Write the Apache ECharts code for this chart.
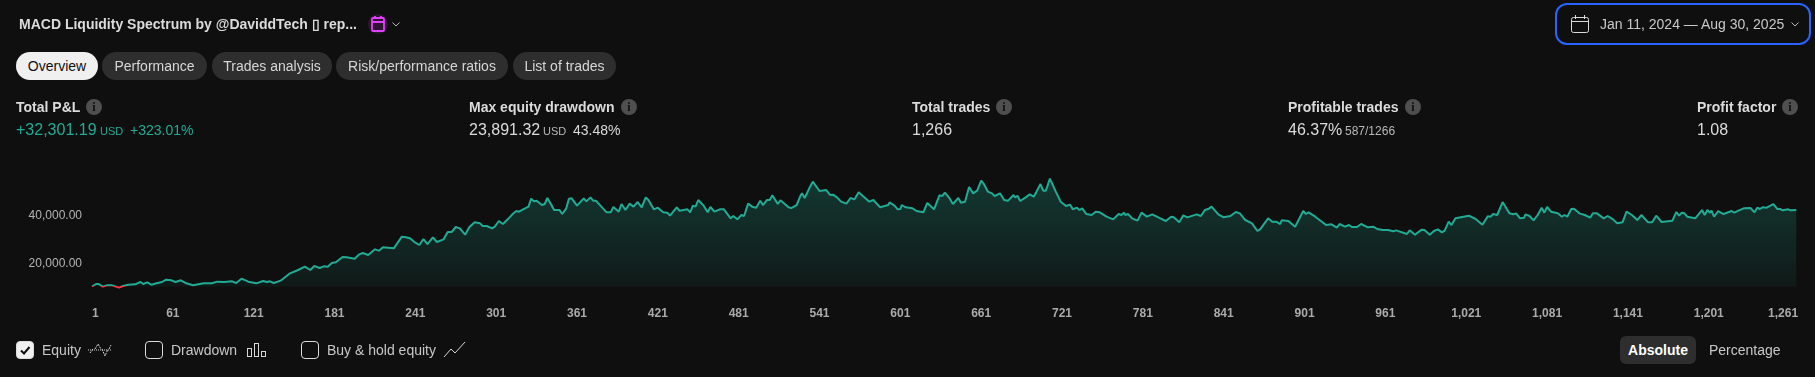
<!DOCTYPE html>
<html>
<head>
<meta charset="utf-8">
<title>MACD Liquidity Spectrum</title>
<script src="https://cdn.jsdelivr.net/npm/echarts@6/dist/echarts.min.js"></script>
<style>
    html, body { margin: 0; padding: 0; background: #0f0f0f; width: 1815px; height: 377px; overflow: hidden; font-family: "Liberation Sans", Arial, sans-serif; }
    #chart { position: absolute; left: 0; top: 0; width: 1815px; height: 377px; }
    .t { position: absolute; transform: translateY(-50%); white-space: nowrap; color: #dbdbdb; font-size: 14px; }
    .b { font-weight: bold; }
    .big { font-size: 16px; }
    .small { font-size: 12px; color: #b8b8b8; }
    .green { color: #22ab94; }
    .pill { position: absolute; top: 52px; height: 28px; line-height: 28px; border-radius: 14px; background: #2e2e2e; color: #d6d6d6; font-size: 14px; text-align: center; }
    .info { position: absolute; width: 16px; height: 16px; border-radius: 8px; background: #4f4f4f; color: #0f0f0f; font: bold 12px/16px "Liberation Serif", serif; text-align: center; transform: translateY(-50%); }
    .box { position: absolute; top: 341px; width: 16px; height: 16px; border: 1px solid #dbdbdb; border-radius: 4px; }
    svg { position: absolute; fill: none; }
</style>
</head>
<body>
<div id="chart"></div>

<div class="t b" style="left:19px;top:24px;">MACD Liquidity Spectrum by @DaviddTech ▯ rep...</div>
<div style="position:absolute;left:368px;top:14px;width:20px;height:20px;border-radius:10px;background:rgba(224,64,251,0.14);"></div>
<svg style="left:368px;top:14px;" width="20" height="20" stroke="#e040fb" stroke-width="1.8"><rect x="4" y="4" width="12" height="13" rx="1"/><path d="M4 8h12M7 2v3M13 2v3"/></svg>
<svg style="left:391px;top:19px;" width="10" height="10" stroke="#b8b8b8"><path d="M1.5 3.5L5 7L8.5 3.5"/></svg>

<div style="position:absolute;left:1555px;top:3px;width:252px;height:38px;border:2px solid #2962ff;border-radius:12px;"></div>
<svg style="left:1570px;top:14px;" width="20" height="20" stroke="#dbdbdb"><rect x="1.5" y="3.5" width="17" height="15" rx="2"/><path d="M1.5 7.5h17M5.5 1v4M14.5 1v4"/></svg>
<div class="t" style="left:1600px;top:24px;color:#c8c8c8;">Jan 11, 2024 — Aug 30, 2025</div>
<svg style="left:1790px;top:19px;" width="10" height="10" stroke="#b8b8b8"><path d="M1.5 3.5L5 7L8.5 3.5"/></svg>

<div class="pill" style="left:16px;width:82px;background:#f0f0f0;color:#0f0f0f;">Overview</div>
<div class="pill" style="left:102px;width:105px;">Performance</div>
<div class="pill" style="left:212px;width:120px;">Trades analysis</div>
<div class="pill" style="left:336px;width:172px;">Risk/performance ratios</div>
<div class="pill" style="left:513px;width:103px;">List of trades</div>

<div class="t b" style="left:16px;top:107px;">Total P&amp;L</div>
<div class="info" style="left:86px;top:107px;">i</div>
<div class="t big green" style="left:16px;top:130px;">+32,301.19</div>
<div class="t small green" style="left:100px;top:131px;font-size:11px;">USD</div>
<div class="t green" style="left:130px;top:130px;">+323.01%</div>

<div class="t b" style="left:469px;top:107px;">Max equity drawdown</div>
<div class="info" style="left:621px;top:107px;">i</div>
<div class="t big" style="left:469px;top:130px;">23,891.32</div>
<div class="t small" style="left:543px;top:131px;font-size:11px;">USD</div>
<div class="t" style="left:573px;top:130px;">43.48%</div>

<div class="t b" style="left:912px;top:107px;">Total trades</div>
<div class="info" style="left:996px;top:107px;">i</div>
<div class="t big" style="left:912px;top:130px;">1,266</div>

<div class="t b" style="left:1288px;top:107px;">Profitable trades</div>
<div class="info" style="left:1405px;top:107px;">i</div>
<div class="t big" style="left:1288px;top:130px;">46.37%</div>
<div class="t small" style="left:1345px;top:131px;">587/1266</div>

<div class="t b" style="left:1697px;top:107px;">Profit factor</div>
<div class="info" style="left:1782px;top:107px;">i</div>
<div class="t big" style="left:1697px;top:130px;">1.08</div>

<div class="box" style="left:16px;background:#f0f0f0;"></div>
<svg style="left:16px;top:341px;" width="18" height="18" stroke="#0f0f0f" stroke-width="2"><path d="M5 9.5L8 12.5L13.5 6"/></svg>
<div class="t" style="left:42px;top:350px;color:#c8c8c8;">Equity</div>
<svg style="left:87px;top:340px;" width="26" height="20" stroke="#d6d6d6"><path d="M1 10h24" stroke-dasharray="1 1"/><path d="M3 13L6 9M8 9L11 4L14 9M15 9L18 16L21 9M22 9L24 5" stroke-dasharray="2 1"/></svg>
<div class="box" style="left:145px;"></div>
<div class="t" style="left:171px;top:350px;color:#c8c8c8;">Drawdown</div>
<svg style="left:245px;top:340px;" width="22" height="20" stroke="#d6d6d6"><rect x="2.5" y="8.5" width="4" height="8"/><rect x="9.5" y="3.5" width="4" height="13"/><rect x="16.5" y="11.5" width="4" height="5"/></svg>
<div class="box" style="left:301px;"></div>
<div class="t" style="left:327px;top:350px;color:#c8c8c8;">Buy &amp; hold equity</div>
<svg style="left:443px;top:340px;" width="23" height="20" stroke="#d6d6d6"><path d="M1 17L8 9L12 13L22 2"/></svg>

<div style="position:absolute;left:1620px;top:336px;width:76px;height:28px;line-height:28px;border-radius:6px;background:#2e2e2e;color:#fff;font-size:14px;font-weight:bold;text-align:center;">Absolute</div>
<div class="t" style="left:1709px;top:350px;color:#c8c8c8;">Percentage</div>

<script>
// trade offsets (0 = trade 1), only the turning points
var tradeOffset = [
    0, 3, 5, 8, 11, 15, 20, 23, 27, 32, 36, 38, 41, 44, 48, 52, 55, 59, 62, 66,
    70, 75, 79, 83, 89, 93, 98, 104, 107, 111, 116, 122, 127, 130, 132, 135, 140, 147, 153, 158,
    162, 165, 169, 172, 175, 178, 181, 186, 189, 195, 198, 201, 205, 210, 213, 216, 224, 230, 233, 236,
    240, 243, 246, 249, 253, 256, 261, 264, 267, 270, 273,
    277, 280, 281, 284, 288, 290, 293, 297, 299, 302, 305, 308, 310, 312, 315, 317, 320, 324, 326, 328,
    330, 334, 336, 338, 341, 343, 347, 349, 352, 354, 356, 360, 365, 367, 370, 372, 374, 382, 385, 387,
    391, 393, 396, 399, 402, 405, 408, 411, 413, 417, 420, 424, 427, 429, 434, 436, 442, 444, 446, 448,
    450, 454, 457, 459, 462, 466, 469, 474, 476, 479, 482, 484, 487, 490, 493, 496, 498, 501, 503, 505,
    509, 511, 517, 519, 523, 526, 527, 529, 533, 534, 535, 540, 545, 548, 550, 553, 556, 560, 563, 566, 569,
    570, 577, 580, 585, 591, 592, 596, 598, 600, 601, 604, 609, 612, 617, 620, 625, 629, 631, 633, 636,
    639, 643, 645, 648, 651, 654, 657, 660, 662, 665, 668, 670, 674, 677, 680, 684, 685, 687, 689, 693,
    694, 696, 699, 701, 704, 706, 708, 711, 715, 719, 720, 723, 726, 728, 731, 733, 735, 738, 742, 745,
    748, 753, 758, 762, 764, 766, 767, 769, 772, 776, 779, 783, 787, 793, 797, 801, 803, 807, 810, 813,
    820, 823, 826, 829, 831, 836, 840, 845, 849, 852, 856, 861, 865, 867,
    873, 876, 879, 882, 883, 888, 889, 893, 899, 901, 903, 908, 916, 920, 924, 926, 930, 933, 935, 939,
    942, 947, 951, 954, 958, 962, 966, 968, 976, 978, 982, 987, 989, 993, 996, 999, 1002, 1004, 1007, 1009,
    1012, 1022, 1027, 1032, 1036, 1038, 1040, 1043, 1047, 1052, 1055, 1057, 1060, 1063, 1064, 1067, 1070, 1073, 1076, 1078,
    1080, 1083, 1088, 1091, 1093, 1095, 1098, 1100, 1104, 1108, 1112, 1114, 1115, 1117, 1122, 1125, 1129, 1132, 1136, 1139,
    1143, 1147, 1150, 1155, 1158, 1161, 1165, 1173, 1176, 1178, 1180, 1182, 1184, 1190, 1195, 1197, 1199, 1201, 1202, 1204,
    1207, 1211, 1217, 1219, 1222, 1226, 1231, 1234, 1236, 1238, 1240, 1243, 1248, 1251, 1253, 1255, 1259, 1261, 1265
];
var equity = [
    10000, 11025, 11025, 9930, 10480, 10480, 9520, 10205, 10750, 10890, 11845, 11025, 11710, 10750, 11300, 11845, 12800, 12530, 11845, 12530,
    11300, 10480, 10890, 11300, 11300, 11980, 11845, 12120, 11435, 13210, 11980, 11300, 12255, 11845, 12120, 11435, 12390, 15400, 16760, 18130,
    16760, 18400, 17580, 18265, 18130, 19630, 19905, 22090, 21950, 21405, 23045, 23730, 22910, 25230, 24685, 26050, 25640, 30420, 30150, 29740,
    27960, 27010, 29465, 27415, 30150, 28235, 29330, 32335, 32335, 34385, 33840,
    31240, 34245, 33700, 36295, 35885, 34790, 34790, 33840, 34520, 36840, 35610, 37250, 38345, 39575, 40940, 40665, 41625, 42715, 45995, 44900,
    45175, 43400, 43810, 46265, 43400, 41350, 41350, 39710, 42030, 45995, 46130, 43125, 46130, 44900, 46540, 45175, 45175, 40395, 40395, 42580,
    40665, 43810, 41350, 43945, 42715, 44625, 42445, 46540, 45450, 41625, 42305, 40395, 40255, 39030, 42445, 41075, 41625, 40395, 43125, 42715,
    45450, 43125, 40395, 42580, 40665, 41625, 41625, 37935, 38890, 37525, 39300, 38890, 43945, 42715, 42305, 45175, 43400, 45450, 45450, 47360,
    43810, 45310, 42445, 42170, 43400, 47360, 48180, 46265, 50910, 50640, 52960, 49135, 49545, 47495, 47635, 46540, 44765, 43945, 46265, 45720, 48590,
    48455, 44765, 45450, 42445, 43400, 44490, 42990, 41625, 41760, 43400, 42445, 42030, 40940, 40395, 44220, 41625, 47360, 47085, 48455, 46540,
    43810, 46265, 44355, 44765, 50775, 48180, 49275, 53370, 52005, 48865, 48180, 47085, 48180, 45450, 45175, 47495, 46540, 47085, 45040, 46540,
    46130, 47770, 46815, 48865, 52005, 49275, 49275, 54190, 49275, 44765, 45175, 42990, 43535, 41625, 42305, 41350, 42030, 39710, 39300, 40665,
    40395, 38620, 37525, 39710, 39300, 40255, 39300, 39710, 37935, 36980, 40255, 38620, 39575, 37935, 36840, 38620, 38345, 36295, 39165, 38345,
    39575, 38890, 41350, 41895, 42715, 39575, 38345, 38890, 40530, 39985, 37250, 35885, 32745, 33430,
    37935, 36570, 36570, 35610, 37115, 36840, 36295, 34520, 40940, 39710, 40395, 38620, 35205, 35475, 34110, 35610, 34520, 35205, 34385, 34385,
    35610, 34245, 34520, 33565, 33155, 33155, 32605, 33020, 31515, 33020, 31240, 33290, 33155, 31240, 32745, 33430, 32200, 32880, 36570, 35205,
    37935, 39030, 37660, 35340, 38755, 38620, 39710, 39300, 44625, 39985, 39575, 39985, 37935, 38210, 39575, 38890, 37115, 39300, 42305, 40255,
    42580, 40665, 39985, 38620, 39300, 38620, 41760, 41895, 39985, 39300, 38210, 39985, 39300, 39985, 37935, 38890, 37525, 35885, 36295, 40665,
    39300, 37250, 39300, 36295, 36295, 39030, 36430, 36980, 40530, 39030, 40255, 39985, 38620, 37935, 41350, 39300, 41350, 40255, 41075, 38620,
    40935, 39710, 40935, 40255, 41075, 42030, 42170, 40395, 42305, 41760, 42445, 42305, 43810, 41760, 41760, 41215, 41625, 41215, 41350
];
var xTickLabelled = 1260; // last labelled offset, 1,261
var yTickLabels = [20000, 40000];
var startCapital = 10000;

var myChart = echarts.init(document.getElementById('chart'), null, { renderer: 'canvas' });
myChart.setOption({
    animation: false,
    backgroundColor: 'transparent',
    grid: { left: 92, right: 18.7, top: 164.5, height: 146.4 },
    xAxis: {
        type: 'value',
        min: 0,
        max: 1265,
        interval: 60,
        axisLine: { show: false },
        axisTick: { show: false },
        splitLine: { show: false },
        axisLabel: {
            margin: -3,
            hideOverlap: false,
            alignMinLabel: 'left',
            color: '#ababab',
            fontFamily: 'Liberation Sans',
            fontSize: 12,
            fontWeight: 'bold',
            formatter: function (value) {
                if (value > xTickLabelled) return '';
                var label = (value + 1).toLocaleString('en-US');
                // last label sits a bit left of its tick
                return value === xTickLabelled ? '{last|' + label + '}' : label;
            },
            rich: {
                last: { color: '#ababab', fontFamily: 'Liberation Sans', fontSize: 12, fontWeight: 'bold', padding: [0, 13, 0, 0] }
            }
        }
    },
    yAxis: {
        type: 'value',
        min: 0,
        max: 60000,
        interval: 20000,
        axisLine: { show: false },
        axisTick: { show: false },
        splitLine: { show: false },
        axisLabel: {
            margin: 10,
            formatter: function (value) {
                if (yTickLabels.indexOf(value) < 0) return '';
                return '{v|' + value.toLocaleString('en-US', { minimumFractionDigits: 2 }) + '}';
            },
            rich: {
                // labels sit a little under their tick
                v: { color: '#b4b4b4', fontFamily: 'Liberation Sans', fontSize: 12, padding: [4, 0, 0, 0] }
            }
        }
    },
    visualMap: {
        show: false,
        type: 'piecewise',
        seriesIndex: 0,
        dimension: 1,
        pieces: [
            { min: 0, max: startCapital, color: '#f23645' },
            { min: startCapital, max: 60000, color: '#22ab94' }
        ]
    },
    series: [{
        name: 'Equity',
        type: 'line',
        showSymbol: false,
        silent: true,
        lineStyle: { width: 2 },
        areaStyle: {
            origin: startCapital,
            color: new echarts.graphic.LinearGradient(0, 0, 0, 1, [
                { offset: 0, color: 'rgba(34,171,148,0.38)' },
                { offset: 1, color: 'rgba(34,171,148,0.1)' }
            ])
        },
        data: tradeOffset.map(function (t, i) { return [t, equity[i]]; })
    }]
});
</script>
</body>
</html>
